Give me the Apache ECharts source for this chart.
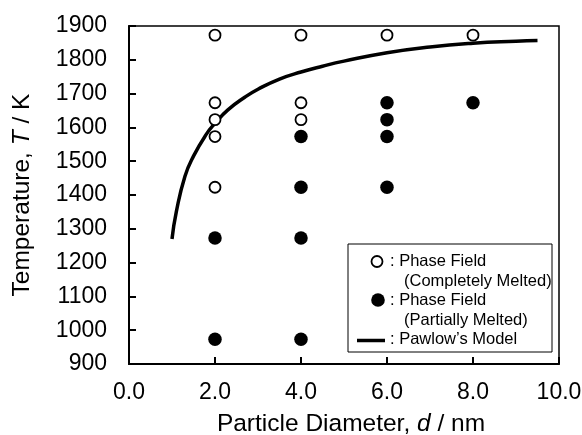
<!DOCTYPE html>
<html>
<head>
<meta charset="utf-8">
<style>
  html, body { margin: 0; padding: 0; background: #fff; }
  #main { width: 582px; height: 435px; }
</style>
<script src="https://cdn.jsdelivr.net/npm/echarts@6/dist/echarts.min.js"></script>
</head>
<body>
<div id="main"></div>
<script>
  // data
  var xTicks = [0, 2, 4, 6, 8, 10];
  var yTicks = [900, 1000, 1100, 1200, 1300, 1400, 1500, 1600, 1700, 1800, 1900];

  // phase field, completely melted (open circles)
  var meltedD = [2, 2, 2, 2, 2, 4, 4, 4, 6, 8];
  var meltedT = [1873, 1673, 1623, 1573, 1423, 1873, 1673, 1623, 1873, 1873];

  // phase field, partially melted (filled circles)
  var partialD = [2, 2, 4, 4, 4, 4, 6, 6, 6, 6, 8];
  var partialT = [1273, 973, 1573, 1423, 1273, 973, 1673, 1623, 1573, 1423, 1673];

  // Pawlow's model curve
  var modelD = [1.0, 1.1, 1.3, 1.5, 1.8, 2.0, 2.3, 2.7, 3.0, 3.5, 4.0, 4.5, 5.0, 6.0, 7.0, 8.0, 9.0, 9.5];
  var modelT = [1270, 1350, 1455, 1515, 1580, 1612, 1652, 1690, 1713, 1743, 1764, 1781, 1796, 1821, 1838, 1849, 1855, 1857];

  function pairs(xs, ys) {
    var out = [];
    for (var i = 0; i < xs.length; i++) out.push([xs[i], ys[i]]);
    return out;
  }

  var font = 'Liberation Sans, Arial, sans-serif';
  var chart = echarts.init(document.getElementById('main'));

  var nameRich = {
    n: { fontSize: 24.5, color: '#000', fontFamily: font },
    i: { fontSize: 24.5, color: '#000', fontStyle: 'italic', fontFamily: font }
  };

  var option = {
    animation: false,
    textStyle: { fontFamily: font },
    grid: {
      left: 129, right: 23, top: 26, bottom: 71,
      show: true, borderColor: '#000', borderWidth: 1.5,
      containLabel: false,
      outerBoundsMode: 'none'
    },
    xAxis: {
      type: 'value',
      min: xTicks[0], max: xTicks[xTicks.length - 1], interval: 2,
      name: '{n|Particle Diameter, }{i|d}{n| / nm}',
      nameLocation: 'middle',
      nameGap: 48,
      nameTextStyle: { rich: nameRich, padding: [0, 0, 0, 14] },
      axisLine: { lineStyle: { color: '#000', width: 2 } },
      axisTick: { inside: true, length: 7, lineStyle: { color: '#000', width: 2 } },
      axisLabel: {
        fontSize: 23, color: '#000', margin: 17,
        formatter: function (v) { return v.toFixed(1); }
      },
      splitLine: { show: false }
    },
    yAxis: {
      type: 'value',
      min: yTicks[0], max: yTicks[yTicks.length - 1], interval: 100,
      name: '{n|Temperature, }{i|T}{n| / K}',
      nameLocation: 'middle',
      nameGap: 94,
      nameRotate: 90,
      nameTextStyle: { rich: nameRich },
      axisLine: { lineStyle: { color: '#000', width: 2 } },
      axisTick: { inside: true, length: 7, lineStyle: { color: '#000', width: 2 } },
      axisLabel: {
        fontSize: 23, color: '#000', margin: 22,
        formatter: function (v) { return String(v); }
      },
      splitLine: { show: false }
    },
    series: [
      {
        name: "Pawlow's Model",
        type: 'line',
        smooth: true,
        showSymbol: false,
        data: pairs(modelD, modelT),
        lineStyle: { color: '#000', width: 3.5 },
        z: 2
      },
      {
        name: 'Phase Field (Completely Melted)',
        type: 'scatter',
        symbol: 'circle',
        symbolSize: 11,
        data: pairs(meltedD, meltedT),
        itemStyle: { color: '#fff', borderColor: '#000', borderWidth: 1.8, opacity: 1 },
        z: 3
      },
      {
        name: 'Phase Field (Partially Melted)',
        type: 'scatter',
        symbol: 'circle',
        symbolSize: 13.5,
        data: pairs(partialD, partialT),
        itemStyle: { color: '#000', opacity: 1 },
        z: 3
      }
    ],
    // legend box drawn by hand to keep the two-line labels
    graphic: [
      {
        type: 'rect', z: 10,
        shape: { x: 348, y: 244, width: 204, height: 108 },
        style: { fill: '#fff', stroke: '#000', lineWidth: 1 }
      },
      {
        type: 'circle', z: 11,
        shape: { cx: 377, cy: 261.5, r: 5.5 },
        style: { fill: '#fff', stroke: '#000', lineWidth: 1.8 }
      },
      {
        type: 'text', z: 11, x: 390, y: 261,
        style: { text: ': Phase Field', font: '16.5px ' + font, fill: '#000', verticalAlign: 'middle' }
      },
      {
        type: 'text', z: 11, x: 404, y: 281,
        style: { text: '(Completely Melted)', font: '16.5px ' + font, fill: '#000', verticalAlign: 'middle' }
      },
      {
        type: 'circle', z: 11,
        shape: { cx: 378, cy: 300, r: 6.8 },
        style: { fill: '#000' }
      },
      {
        type: 'text', z: 11, x: 390, y: 300,
        style: { text: ': Phase Field', font: '16.5px ' + font, fill: '#000', verticalAlign: 'middle' }
      },
      {
        type: 'text', z: 11, x: 404, y: 320,
        style: { text: '(Partially Melted)', font: '16.5px ' + font, fill: '#000', verticalAlign: 'middle' }
      },
      {
        type: 'line', z: 11,
        shape: { x1: 357, y1: 340.5, x2: 385, y2: 340.5 },
        style: { stroke: '#000', lineWidth: 3.5 }
      },
      {
        type: 'text', z: 11, x: 390, y: 339,
        style: { text: ': Pawlow\u2019s Model', font: '16.5px ' + font, fill: '#000', verticalAlign: 'middle' }
      }
    ]
  };

  chart.setOption(option);
</script>
</body>
</html>
